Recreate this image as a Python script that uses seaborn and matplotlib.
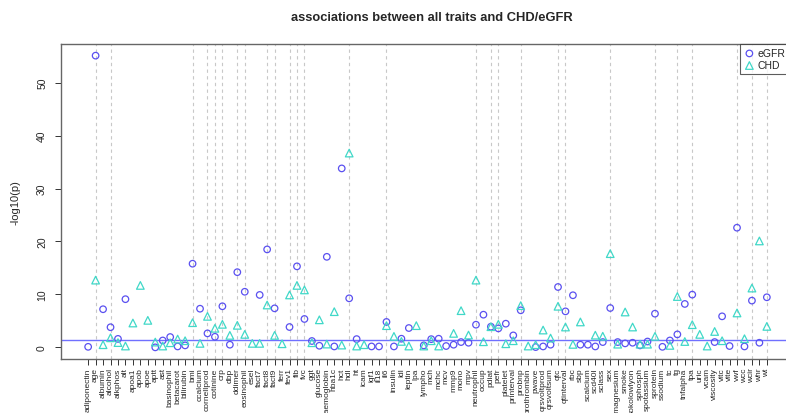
import numpy as np
import pandas as pd
import matplotlib
matplotlib.use('Agg')
import matplotlib.pyplot as plt
import seaborn as sns

traits = ['adiponectin', 'age', 'albumin', 'alcohol', 'alkphos', 'alt', 'apoa1', 'apob', 'apoe', 'aptt',
          'ast', 'basinophil', 'betacarot', 'bilirubin', 'bmi', 'ccalcium', 'cornellprod', 'cotinine', 'crp', 'dbp',
          'ddimer', 'eosinophil', 'esel', 'fact7', 'fact8', 'fact9', 'ferr', 'fev1', 'fib', 'fvc',
          'ggt', 'glucose', 'haemoglobin', 'hba1c', 'hct', 'hdl', 'ht', 'icam', 'igf1', 'il18',
          'il6', 'insulin', 'ldl', 'leptin', 'lpa', 'lympho', 'mch', 'mchc', 'mcv', 'mmp9',
          'mono', 'mpv', 'neutrophil', 'occup', 'pdiat', 'pefr', 'platelet', 'printerval', 'probnp', 'prothrombin',
          'pwave', 'qrsvoltprod', 'qrsvoltsum', 'qtc', 'qtinterval', 'rbc', 'sbp', 'scalcium', 'scd40l', 'sclass',
          'sex', 'smagnesium', 'smoke', 'sokolowlyon', 'sphosph', 'spotassium', 'sprotein', 'ssodium', 'tc', 'tg',
          'tnfalpha', 'tpa', 'uric', 'vcam', 'viscosity', 'vitc', 'vite', 'vwf', 'wcc', 'wcir',
          'whr', 'wt']

nan = np.nan
egfr = [0.1, 55.1, 7.2, 3.8, 1.6, 9.1, nan, nan, nan, 0.0,
        1.3, 1.95, 0.17, 0.37, 15.8, 7.3, 2.64, 2.0, 7.76, 0.5,
        14.2, 10.5, nan, 9.9, 18.5, 7.37, nan, 3.84, 15.3, 5.36,
        1.2, 0.3, 17.1, 0.17, 33.8, 9.26, 1.56, nan, 0.17, 0.17,
        4.8, 0.17, 1.63, 3.65, nan, 0.37, 1.55, 1.63, 0.25, 0.5,
        1.0, 0.87, 4.28, 6.17, 3.9, 3.58, 4.47, 2.26, 7.0, nan,
        0.05, 0.17, 0.5, 11.4, 6.8, 9.84, 0.5, 0.5, 0.17, 1.0,
        7.43, 1.0, 0.75, 0.87, 0.37, 1.1, 6.36, 0.1, 1.3, 2.45,
        8.2, 9.96, nan, nan, 1.0, 5.86, 0.25, 22.6, 0.17, 8.83,
        0.87, 9.46]
chd = [nan, 12.7, 0.5, 1.8, 0.9, 0.25, 4.6, 11.7, 5.1, 1.0,
       0.25, 0.87, 1.57, 1.25, 4.66, 0.75, 5.86, 3.6, 4.35, 2.26,
       4.16, 2.45, 0.75, 0.75, 8.0, 2.26, 0.68, 9.9, 11.7, 10.85,
       0.87, 5.2, 0.62, 6.74, 0.43, 36.7, 0.25, 0.5, nan, nan,
       4.1, 2.07, 1.12, 0.25, 4.1, 0.25, 1.25, 0.25, nan, 2.64,
       6.93, 2.32, 12.7, 1.06, 3.9, 4.35, 0.68, 1.25, 7.88, 0.25,
       0.5, 3.27, 1.75, 7.76, 3.84, 0.56, 4.8, nan, 2.3, 2.1,
       17.7, 0.6, 6.68, 3.84, 0.6, 0.6, 2.07, nan, 0.37, 9.6,
       1.1, 4.28, 2.45, 0.25, 3.0, 1.25, nan, 6.5, 1.63, 11.2,
       20.1, 3.96]

df = pd.DataFrame({'trait': traits, 'pos': np.arange(len(traits)),
                   'eGFR': egfr, 'CHD': chd})
thr = -np.log10(0.05)

sns.set_style('ticks')
plt.rcParams['font.family'] = ['Liberation Sans', 'DejaVu Sans']

fig = plt.figure(figsize=(7.86, 4.14), dpi=100)
# plot box runs past the right edge of the picture, as in the reference
ax = fig.add_axes([61 / 786, 1 - 360 / 414, 733 / 786, 315 / 414])

# traits significant for both outcomes get a dashed guide line
both = df[(df['eGFR'] > thr) & (df['CHD'] > thr)]
for p in both['pos']:
    ax.axvline(p, color='#c8c8c8', linestyle=(0, (3, 3)), linewidth=0.8, zorder=0)
ax.axhline(thr, color='#7070ff', linewidth=1.0, zorder=1)

sns.scatterplot(data=df, x='pos', y='eGFR', marker='o', s=22, color='#5a50f0',
                facecolors='none', edgecolor='#5a50f0', linewidth=0.9, label='eGFR', ax=ax, zorder=3)
sns.scatterplot(data=df, x='pos', y='CHD', marker='^', s=30, color='#40d8c8',
                facecolors='none', edgecolor='#40d8c8', linewidth=0.9, label='CHD', ax=ax, zorder=3)

n = len(traits)
ax.set_xlim(-0.04 * (n - 1), (n - 1) * 1.04)
ax.set_ylim(-2.2, 57.3)
ax.set_xticks(df['pos'])
ax.set_xticklabels(traits, rotation=90, fontsize=6)
ax.set_yticks([0, 10, 20, 30, 40, 50])
ax.set_yticklabels(['0', '10', '20', '30', '40', '50'], rotation=90, va='center', fontsize=7.5)
ax.tick_params(axis='both', direction='out', length=4, width=0.7, color='#333333', pad=2)
ax.tick_params(axis='y', pad=6)
ax.set_xlabel('')
ax.set_ylabel('-log10(p)', fontsize=8, labelpad=12)
for s in ax.spines.values():
    s.set_color('#666666')
    s.set_linewidth(1.0)

leg = ax.legend(loc='upper left', bbox_to_anchor=((740 - 61) / 733, 1.0), borderaxespad=0,
                fontsize=7.5, frameon=True, fancybox=False, edgecolor='#333333',
                handletextpad=0.3, borderpad=0.4, labelspacing=0.2, handlelength=1.0)
leg.get_frame().set_linewidth(0.8)

fig.text(432 / 786, 1 - 18 / 414, 'associations between all traits and CHD/eGFR',
         ha='center', va='center', fontsize=9.3, fontweight='bold')

plt.savefig('out.png', dpi=100)
plt.close()
